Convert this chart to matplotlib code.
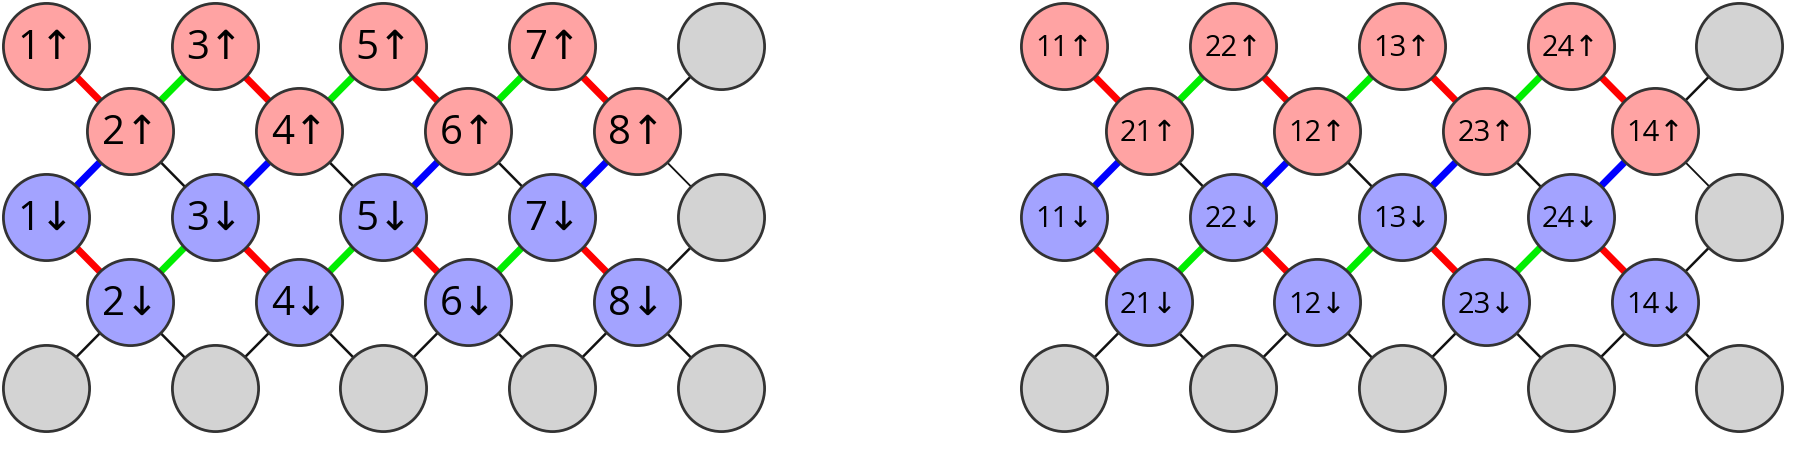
import matplotlib.pyplot as plt

# lattice positions are (column, row); row 0 on top
left_up = ["1", "3", "5", "7"]
left_up2 = ["2", "4", "6", "8"]
right_up = ["11", "22", "13", "24"]
right_up2 = ["21", "12", "23", "14"]

# bond colours per layer pair, per bond along the row (left->right)
bonds_01 = ["red", "green", "red", "green", "red", "green", "red", "black"]
bonds_12 = ["blue", "black", "blue", "black", "blue", "black", "blue", "thin"]
bonds_23 = ["red", "green", "red", "green", "red", "green", "red", "black"]
bonds_34 = ["black"] * 8

colmap = {"red": "#ff0000", "green": "#00ee00", "blue": "#0000ff", "black": "#111111", "thin": "#111111"}
PINK, LILAC, GREY = "#ffa3a3", "#a3a3ff", "#d3d3d3"


def drawPanel(ax, x0, top, second, fs):
    def bondRow(r_even, r_odd, colors):
        for k, c in enumerate(colors):
            xe = 2 * ((k + 1) // 2)
            xo = 2 * (k // 2) + 1
            lw = 1.3 if c == "thin" else (1.8 if c == "black" else 5)
            ax.plot([x0 + xe, x0 + xo], [r_even, r_odd], color=colmap[c], lw=lw, zorder=1, solid_capstyle="butt")

    bondRow(0, 1, bonds_01)
    bondRow(2, 1, bonds_12)
    bondRow(2, 3, bonds_23)
    bondRow(4, 3, bonds_34)

    def node(x, y, color, text=None):
        ax.scatter([x0 + x], [y], s=3850, c=color, edgecolors="#333333", linewidths=2, zorder=2)
        if text:
            ax.text(x0 + x, y + 0.03, text, ha="center", va="center", fontsize=fs, zorder=3,
                    family=["Open Sans", "DejaVu Sans"])

    for i in range(4):
        node(2 * i, 0, PINK, top[i] + "↑")
        node(2 * i + 1, 1, PINK, second[i] + "↑")
        node(2 * i, 2, LILAC, top[i] + "↓")
        node(2 * i + 1, 3, LILAC, second[i] + "↓")
    node(8, 0, GREY)
    node(8, 2, GREY)
    for i in range(5):
        node(2 * i, 4, GREY)


fig = plt.figure(figsize=(18, 4.51), dpi=100)
ax = fig.add_axes([0, 0, 1, 1])
drawPanel(ax, 0, left_up, left_up2, 29)
drawPanel(ax, 12.07, right_up, right_up2, 21)
ax.set_xlim(-40 / 73.5, 1528 / 73.5)
ax.set_ylim(353 / 74.5, -40 / 74.5)
ax.axis("off")
fig.savefig("out.png", dpi=100)
